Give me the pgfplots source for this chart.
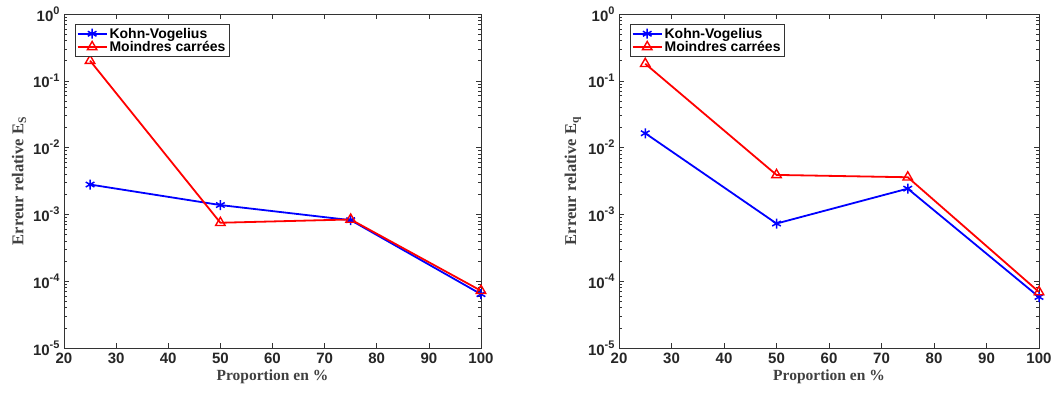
\documentclass[border=0pt]{standalone}
\usepackage{fontspec}
\setmainfont{Liberation Sans}
\newfontfamily\seriffont{Liberation Serif}
\usepackage{pgfplots}
\pgfplotsset{compat=1.18}
\newcommand\tp[1]{10\raisebox{0.45em}{\fontsize{11}{11}\selectfont #1}}
\pgfplotsset{
  kvplot/.style={blue, line width=1.8pt, mark=asterisk, mark size=5pt, mark options={line width=1.5pt}},
  mcplot/.style={red, line width=1.8pt, mark=triangle, mark size=5.5pt, mark options={line width=1.4pt, fill=none}},
  every axis/.append style={
  scale only axis, height=334pt,
  xmin=20, xmax=100, ymin=1e-5, ymax=1,
  xtick={20,30,...,100},
  ytick={1e-5,1e-4,1e-3,1e-2,1e-1,1},
  yticklabels={\tp{-5},\tp{-4},\tp{-3},\tp{-2},\tp{-1},\tp{0}},
  tick label style={font=\fontsize{15}{15}\selectfont\bfseries, text=black!85},
  yticklabel style={xshift=-1pt},
  xticklabel style={yshift=-1pt},
  major tick length=5pt, minor tick length=3pt,
  axis line style={line width=0.8pt, black!80},
  every tick/.append style={black!80, line width=0.6pt},
  xlabel style={font=\seriffont\bfseries\fontsize{15.5}{15.5}\selectfont, text=black!75},
  ylabel style={font=\seriffont\bfseries\fontsize{16.5}{16.5}\selectfont, text=black!75},
  legend style={at={(0.026,0.97)}, anchor=north west, font=\bfseries\fontsize{14}{14}\selectfont,
    draw=black!80, line width=0.8pt, inner sep=1.5pt, row sep=-2.5pt},
  legend cell align=left,
  legend image code/.code={\draw[mark repeat=2,mark phase=2] plot coordinates {(0pt,0pt)(14.5pt,0pt)(29pt,0pt)};},
  xticklabel style={/pgf/number format/assume math mode=true},
  }
}
\begin{document}
\begin{tikzpicture}
\path[use as bounding box] (0,0) rectangle (1055pt,394pt);
\begin{semilogyaxis}[width=417pt, at={(64pt,46pt)}, anchor=south west,
  xlabel={Proportion en \%}, ylabel={Erreur relative E\textsubscript{S}}]
\addplot[kvplot] coordinates {(25,2.8e-3) (50,1.38e-3) (75,8.2e-4) (100,6.4e-5)};
\addlegendentry{Kohn-Vogelius}
\addplot[mcplot] coordinates {(25,0.20) (50,7.5e-4) (75,8.4e-4) (100,7.2e-5)};
\addlegendentry{Moindres carrées}
\end{semilogyaxis}
\begin{semilogyaxis}[width=420pt, at={(619pt,46pt)}, anchor=south west,
  xlabel={Proportion en \%}, ylabel={Erreur relative E\textsubscript{q}}]
\addplot[kvplot] coordinates {(25,1.64e-2) (50,7.3e-4) (75,2.43e-3) (100,5.8e-5)};
\addlegendentry{Kohn-Vogelius}
\addplot[mcplot] coordinates {(25,0.18) (50,3.9e-3) (75,3.6e-3) (100,6.9e-5)};
\addlegendentry{Moindres carrées}
\end{semilogyaxis}
\end{tikzpicture}
\end{document}
